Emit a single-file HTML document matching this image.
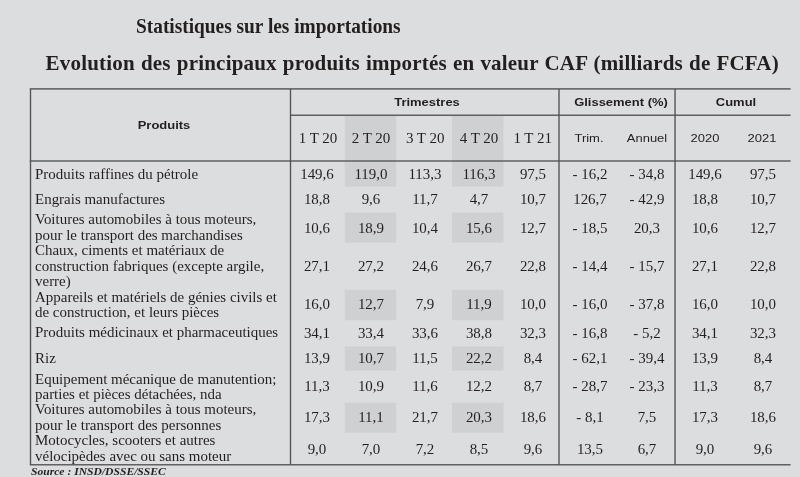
<!DOCTYPE html>
<html><head><meta charset="utf-8"><title>Statistiques sur les importations</title>
<style>
html,body{margin:0;padding:0}
body{width:800px;height:477px;background:#dcddde;position:relative;overflow:hidden;color:#231f20;font-family:"Liberation Serif",serif}
.a{position:absolute;white-space:nowrap}
.t1{left:135.8px;top:13.6px;font-weight:bold;font-size:21.5px;line-height:24px;transform:scaleX(0.9);transform-origin:0 0}
.t2{left:45.6px;top:49.5px;font-weight:bold;font-size:21px;line-height:26px;letter-spacing:0.2px;word-spacing:0.6px}
.sh{position:absolute;background:#cfd0d2}
.hs{font-family:"Liberation Sans",sans-serif;font-size:11.7px;line-height:16px;text-align:center;transform:scaleX(1.11)}
.hb{font-weight:bold}
.q{font-size:15px;line-height:18px;text-align:center;width:60px}
.n{font-size:13.6px;line-height:15.5px;text-align:center;width:60px;transform:scaleX(1.1010)}
.p{left:35.1px;font-size:13.6px;line-height:15.5px;transform:scaleX(1.1010);transform-origin:0 0}
.src{left:30.6px;top:465.9px;font-size:10px;line-height:12px;font-style:italic;font-weight:bold;transform:scaleX(1.16);transform-origin:0 0}
</style></head><body>
<div class="a t1">Statistiques sur les importations</div>
<div class="a t2">Evolution des principaux produits importés en valeur CAF (milliards de FCFA)</div>

<svg class="a" style="left:0;top:0" width="800" height="477" viewBox="0 0 800 477"><rect x="344.8" y="115.2" width="51.3" height="71.4" fill="#cfd0d2"/><rect x="344.8" y="212.6" width="51.3" height="30.0" fill="#cfd0d2"/><rect x="344.8" y="289.8" width="51.3" height="30.4" fill="#cfd0d2"/><rect x="344.8" y="346.4" width="51.3" height="24.2" fill="#cfd0d2"/><rect x="344.8" y="402.7" width="51.3" height="30.0" fill="#cfd0d2"/><rect x="452.1" y="115.2" width="51.3" height="71.4" fill="#cfd0d2"/><rect x="452.1" y="212.6" width="51.3" height="30.0" fill="#cfd0d2"/><rect x="452.1" y="289.8" width="51.3" height="30.4" fill="#cfd0d2"/><rect x="452.1" y="346.4" width="51.3" height="24.2" fill="#cfd0d2"/><rect x="452.1" y="402.7" width="51.3" height="30.0" fill="#cfd0d2"/><line x1="29.8" y1="88.9" x2="790.6" y2="88.9" stroke="#6c6d6f" stroke-width="1.6"/><line x1="290.5" y1="115.2" x2="790.6" y2="115.2" stroke="#606163" stroke-width="1.5"/><line x1="29.8" y1="160.9" x2="790.6" y2="160.9" stroke="#606163" stroke-width="1.5"/><line x1="29.8" y1="464.65" x2="790.6" y2="464.65" stroke="#606163" stroke-width="1.5"/><line x1="30.5" y1="88.9" x2="30.5" y2="464.65" stroke="#505153" stroke-width="1.35"/><line x1="290.5" y1="88.9" x2="290.5" y2="464.65" stroke="#505153" stroke-width="1.35"/><line x1="559.0" y1="88.9" x2="559.0" y2="464.65" stroke="#505153" stroke-width="1.35"/><line x1="675.05" y1="88.9" x2="675.05" y2="464.65" stroke="#505153" stroke-width="1.35"/></svg>
<div class="a hs hb" style="left:104.0px;width:120px;top:117px">Produits</div>
<div class="a hs hb" style="left:367.1px;width:120px;top:94px">Trimestres</div>
<div class="a hs hb" style="left:561.0px;width:120px;top:94px">Glissement (%)</div>
<div class="a hs hb" style="left:675.5px;width:120px;top:94px">Cumul</div>
<div class="a q" style="left:288.0px;top:129px">1 T 20</div>
<div class="a q" style="left:341.0px;top:129px">2 T 20</div>
<div class="a q" style="left:395.2px;top:129px">3 T 20</div>
<div class="a q" style="left:449.0px;top:129px">4 T 20</div>
<div class="a q" style="left:502.7px;top:129px">1 T 21</div>
<div class="a hs" style="left:549.0px;width:80px;top:130px">Trim.</div>
<div class="a hs" style="left:607.1px;width:80px;top:130px">Annuel</div>
<div class="a hs" style="left:664.9px;width:80px;top:130px">2020</div>
<div class="a hs" style="left:722.3px;width:80px;top:130px">2021</div>
<div class="a p" style="top:167px">Produits raffines du pétrole</div>
<div class="a n" style="left:287.3px;top:167px">149,6</div>
<div class="a n" style="left:340.8px;top:167px">119,0</div>
<div class="a n" style="left:395.4px;top:167px">113,3</div>
<div class="a n" style="left:449.2px;top:167px">116,3</div>
<div class="a n" style="left:503.0px;top:167px">97,5</div>
<div class="a n" style="left:559.7px;top:167px">- 16,2</div>
<div class="a n" style="left:617.1px;top:167px">- 34,8</div>
<div class="a n" style="left:675.3px;top:167px">149,6</div>
<div class="a n" style="left:732.5px;top:167px">97,5</div>
<div class="a p" style="top:192px">Engrais manufactures</div>
<div class="a n" style="left:287.3px;top:192px">18,8</div>
<div class="a n" style="left:340.8px;top:192px">9,6</div>
<div class="a n" style="left:395.4px;top:192px">11,7</div>
<div class="a n" style="left:449.2px;top:192px">4,7</div>
<div class="a n" style="left:503.0px;top:192px">10,7</div>
<div class="a n" style="left:559.7px;top:192px">126,7</div>
<div class="a n" style="left:617.1px;top:192px">- 42,9</div>
<div class="a n" style="left:675.3px;top:192px">18,8</div>
<div class="a n" style="left:732.5px;top:192px">10,7</div>
<div class="a p" style="top:212px">Voitures automobiles à tous moteurs,</div>
<div class="a p" style="top:228px">pour le transport des marchandises</div>
<div class="a n" style="left:287.3px;top:221px">10,6</div>
<div class="a n" style="left:340.8px;top:221px">18,9</div>
<div class="a n" style="left:395.4px;top:221px">10,4</div>
<div class="a n" style="left:449.2px;top:221px">15,6</div>
<div class="a n" style="left:503.0px;top:221px">12,7</div>
<div class="a n" style="left:559.7px;top:221px">- 18,5</div>
<div class="a n" style="left:617.1px;top:221px">20,3</div>
<div class="a n" style="left:675.3px;top:221px">10,6</div>
<div class="a n" style="left:732.5px;top:221px">12,7</div>
<div class="a p" style="top:243px">Chaux, ciments et matériaux de</div>
<div class="a p" style="top:259px">construction fabriques (excepte argile,</div>
<div class="a p" style="top:274px">verre)</div>
<div class="a n" style="left:287.3px;top:259px">27,1</div>
<div class="a n" style="left:340.8px;top:259px">27,2</div>
<div class="a n" style="left:395.4px;top:259px">24,6</div>
<div class="a n" style="left:449.2px;top:259px">26,7</div>
<div class="a n" style="left:503.0px;top:259px">22,8</div>
<div class="a n" style="left:559.7px;top:259px">- 14,4</div>
<div class="a n" style="left:617.1px;top:259px">- 15,7</div>
<div class="a n" style="left:675.3px;top:259px">27,1</div>
<div class="a n" style="left:732.5px;top:259px">22,8</div>
<div class="a p" style="top:290px">Appareils et matériels de génies civils et</div>
<div class="a p" style="top:305px">de construction, et leurs pièces</div>
<div class="a n" style="left:287.3px;top:297px">16,0</div>
<div class="a n" style="left:340.8px;top:297px">12,7</div>
<div class="a n" style="left:395.4px;top:297px">7,9</div>
<div class="a n" style="left:449.2px;top:297px">11,9</div>
<div class="a n" style="left:503.0px;top:297px">10,0</div>
<div class="a n" style="left:559.7px;top:297px">- 16,0</div>
<div class="a n" style="left:617.1px;top:297px">- 37,8</div>
<div class="a n" style="left:675.3px;top:297px">16,0</div>
<div class="a n" style="left:732.5px;top:297px">10,0</div>
<div class="a p" style="top:325px">Produits médicinaux et pharmaceutiques</div>
<div class="a n" style="left:287.3px;top:326px">34,1</div>
<div class="a n" style="left:340.8px;top:326px">33,4</div>
<div class="a n" style="left:395.4px;top:326px">33,6</div>
<div class="a n" style="left:449.2px;top:326px">38,8</div>
<div class="a n" style="left:503.0px;top:326px">32,3</div>
<div class="a n" style="left:559.7px;top:326px">- 16,8</div>
<div class="a n" style="left:617.1px;top:326px">- 5,2</div>
<div class="a n" style="left:675.3px;top:326px">34,1</div>
<div class="a n" style="left:732.5px;top:326px">32,3</div>
<div class="a p" style="top:351px">Riz</div>
<div class="a n" style="left:287.3px;top:351px">13,9</div>
<div class="a n" style="left:340.8px;top:351px">10,7</div>
<div class="a n" style="left:395.4px;top:351px">11,5</div>
<div class="a n" style="left:449.2px;top:351px">22,2</div>
<div class="a n" style="left:503.0px;top:351px">8,4</div>
<div class="a n" style="left:559.7px;top:351px">- 62,1</div>
<div class="a n" style="left:617.1px;top:351px">- 39,4</div>
<div class="a n" style="left:675.3px;top:351px">13,9</div>
<div class="a n" style="left:732.5px;top:351px">8,4</div>
<div class="a p" style="top:372px">Equipement mécanique de manutention;</div>
<div class="a p" style="top:387px">parties et pièces détachées, nda</div>
<div class="a n" style="left:287.3px;top:379px">11,3</div>
<div class="a n" style="left:340.8px;top:379px">10,9</div>
<div class="a n" style="left:395.4px;top:379px">11,6</div>
<div class="a n" style="left:449.2px;top:379px">12,2</div>
<div class="a n" style="left:503.0px;top:379px">8,7</div>
<div class="a n" style="left:559.7px;top:379px">- 28,7</div>
<div class="a n" style="left:617.1px;top:379px">- 23,3</div>
<div class="a n" style="left:675.3px;top:379px">11,3</div>
<div class="a n" style="left:732.5px;top:379px">8,7</div>
<div class="a p" style="top:402px">Voitures automobiles à tous moteurs,</div>
<div class="a p" style="top:418px">pour le transport des personnes</div>
<div class="a n" style="left:287.3px;top:410px">17,3</div>
<div class="a n" style="left:340.8px;top:410px">11,1</div>
<div class="a n" style="left:395.4px;top:410px">21,7</div>
<div class="a n" style="left:449.2px;top:410px">20,3</div>
<div class="a n" style="left:503.0px;top:410px">18,6</div>
<div class="a n" style="left:559.7px;top:410px">- 8,1</div>
<div class="a n" style="left:617.1px;top:410px">7,5</div>
<div class="a n" style="left:675.3px;top:410px">17,3</div>
<div class="a n" style="left:732.5px;top:410px">18,6</div>
<div class="a p" style="top:433px">Motocycles, scooters et autres</div>
<div class="a p" style="top:449px">vélocipèdes avec ou sans moteur</div>
<div class="a n" style="left:287.3px;top:442px">9,0</div>
<div class="a n" style="left:340.8px;top:442px">7,0</div>
<div class="a n" style="left:395.4px;top:442px">7,2</div>
<div class="a n" style="left:449.2px;top:442px">8,5</div>
<div class="a n" style="left:503.0px;top:442px">9,6</div>
<div class="a n" style="left:559.7px;top:442px">13,5</div>
<div class="a n" style="left:617.1px;top:442px">6,7</div>
<div class="a n" style="left:675.3px;top:442px">9,0</div>
<div class="a n" style="left:732.5px;top:442px">9,6</div>
<div class="a src">Source : INSD/DSSE/SSEC</div>
</body></html>
